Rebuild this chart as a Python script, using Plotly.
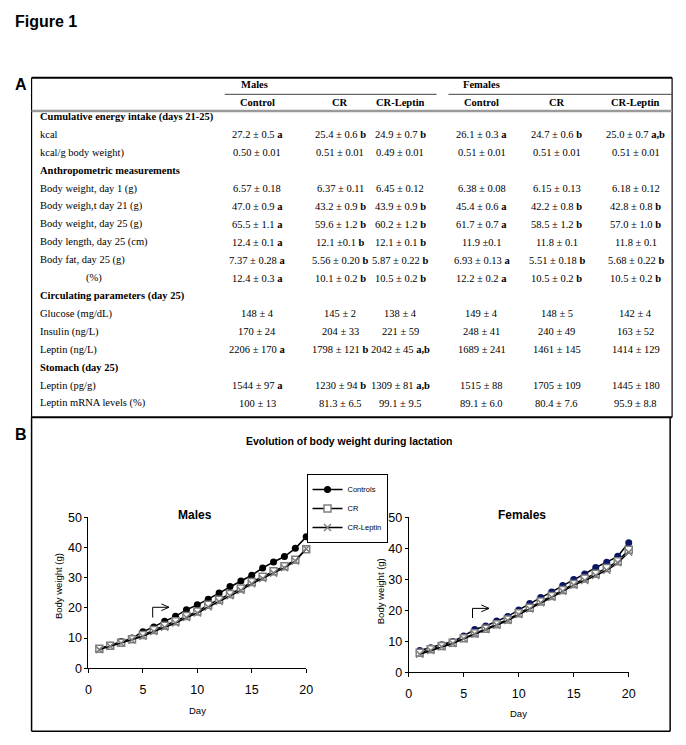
import re
import plotly.graph_objects as go

W, H = 686, 745

# ---------------- Table data (panel A) ----------------
row_labels = [
    "Cumulative energy intake (days 21-25)", "kcal", "kcal/g body weight)",
    "Anthropometric measurements", "Body weight, day 1 (g)", "Body weigh,t day 21 (g)",
    "Body weight, day 25 (g)", "Body length, day 25 (cm)", "Body fat, day 25 (g)", "(%)",
    "Circulating parameters (day 25)", "Glucose (mg/dL)", "Insulin (ng/L)", "Leptin (ng/L)",
    "Stomach (day 25)", "Leptin (pg/g)", "Leptin mRNA levels (%)",
]
section_rows = [0, 3, 10, 14]

groups = ["Males", "Females"]
col_headers = ["Control", "CR", "CR-Leptin", "Control", "CR", "CR-Leptin"]

males_control = ["27.2 ± 0.5 a", "0.50 ± 0.01", "6.57 ± 0.18", "47.0 ± 0.9 a", "65.5 ± 1.1 a",
                 "12.4 ± 0.1 a", "7.37 ± 0.28 a", "12.4 ± 0.3 a", "148 ± 4", "170 ± 24",
                 "2206 ± 170 a", "1544 ± 97 a", "100 ± 13"]
males_cr = ["25.4 ± 0.6 b", "0.51 ± 0.01", "6.37 ± 0.11", "43.2 ± 0.9 b", "59.6 ± 1.2 b",
            "12.1 ±0.1 b", "5.56 ± 0.20 b", "10.1 ± 0.2 b", "145 ± 2", "204 ± 33",
            "1798 ± 121 b", "1230 ± 94 b", "81.3 ± 6.5"]
males_crlep = ["24.9 ± 0.7 b", "0.49 ± 0.01", "6.45 ± 0.12", "43.9 ± 0.9 b", "60.2 ± 1.2 b",
               "12.1 ± 0.1 b", "5.87 ± 0.22 b", "10.5 ± 0.2 b", "138 ± 4", "221 ± 59",
               "2042 ± 45 a,b", "1309 ± 81 a,b", "99.1 ± 9.5"]
females_control = ["26.1 ± 0.3 a", "0.51 ± 0.01", "6.38 ± 0.08", "45.4 ± 0.6 a", "61.7 ± 0.7 a",
                   "11.9 ±0.1", "6.93 ± 0.13 a", "12.2 ± 0.2 a", "149 ± 4", "248 ± 41",
                   "1689 ± 241", "1515 ± 88", "89.1 ± 6.0"]
females_cr = ["24.7 ± 0.6 b", "0.51 ± 0.01", "6.15 ± 0.13", "42.2 ± 0.8 b", "58.5 ± 1.2 b",
              "11.8 ± 0.1", "5.51 ± 0.18 b", "10.5 ± 0.2 b", "148 ± 5", "240 ± 49",
              "1461 ± 145", "1705 ± 109", "80.4 ± 7.6"]
females_crlep = ["25.0 ± 0.7 a,b", "0.51 ± 0.01", "6.18 ± 0.12", "42.8 ± 0.8 b", "57.0 ± 1.0 b",
                 "11.8 ± 0.1", "5.68 ± 0.22 b", "10.5 ± 0.2 b", "142 ± 4", "163 ± 52",
                 "1414 ± 129", "1445 ± 180", "95.9 ± 8.8"]

# ---------------- Chart data (panel B) ----------------
days = list(range(1, 21))
male_controls = [6.5, 7.6, 8.9, 10.0, 12.1, 13.7, 15.6, 17.2, 19.4, 21.0,
                 22.9, 24.9, 27.1, 28.9, 30.8, 33.2, 35.2, 37.0, 39.7, 43.5]
male_cr = [6.5, 7.5, 8.5, 9.6, 11.0, 12.7, 14.1, 15.6, 17.3, 18.8,
           21.0, 22.7, 24.6, 26.4, 28.6, 30.3, 32.1, 33.8, 35.9, 39.4]
male_crlep = [6.2, 7.3, 8.3, 9.4, 10.6, 12.2, 13.6, 15.0, 16.8, 18.3,
              20.3, 22.1, 24.0, 25.8, 28.0, 29.7, 31.5, 33.3, 35.5, 39.6]
female_controls = [7.0, 7.9, 8.9, 9.9, 11.7, 13.8, 14.9, 16.5, 18.0, 20.1,
                   22.2, 24.1, 25.9, 28.0, 29.9, 31.7, 33.8, 35.5, 37.4, 41.8]
female_cr = [6.3, 7.4, 8.5, 9.5, 11.0, 12.6, 14.0, 15.5, 17.0, 19.0,
             20.8, 22.8, 24.6, 26.5, 28.5, 30.2, 31.8, 33.6, 35.8, 39.5]
female_crlep = [5.8, 7.0, 8.2, 9.3, 10.8, 12.3, 13.8, 15.2, 16.7, 18.6,
                20.4, 22.4, 24.2, 26.1, 28.1, 29.6, 31.2, 32.9, 35.3, 38.7]

x_ticks = [0, 5, 10, 15, 20]
y_ticks = [0, 10, 20, 30, 40, 50]


def px(x):
    return x / W


def py(y):
    return 1 - y / H


def fmt_cell(s):
    m = re.match(r"^(.*?)\s+([ab](?:,[ab])?)$", s)
    if m:
        return f"{m.group(1)} <b>{m.group(2)}</b>"
    return s


fig = go.Figure()

SERIF = "Liberation Serif, Times New Roman, serif"
SANS = "Liberation Sans, Arial, sans-serif"

# ---- Traces ----
line_black = dict(color="black", width=1.5)
series = [
    ("Controls", male_controls, female_controls, dict(symbol="circle", size=7, color="black"),
     dict(symbol="circle", size=7, color="#0b1764", line=dict(color="#0b1764", width=0))),
    ("CR", male_cr, female_cr,
     dict(symbol="square", size=7, color="white", line=dict(color="#7f7f7f", width=1.5)),
     dict(symbol="square", size=7, color="white", line=dict(color="#7f7f7f", width=1.5))),
    ("CR-Leptin", male_crlep, female_crlep,
     dict(symbol="x-thin-open", size=7, color="#7f7f7f", line=dict(color="#7f7f7f", width=1.5)),
     dict(symbol="x-thin-open", size=7, color="#7f7f7f", line=dict(color="#7f7f7f", width=1.5))),
]
for name, mv, fv, mm, fm in series:
    fig.add_trace(go.Scatter(x=days, y=mv, name=name, mode="lines+markers", line=line_black,
                             marker=mm, xaxis="x", yaxis="y", cliponaxis=False, showlegend=True))
    fig.add_trace(go.Scatter(x=days, y=fv, name=name, mode="lines+markers", line=line_black,
                             marker=fm, xaxis="x2", yaxis="y2", cliponaxis=False, showlegend=False))

axis_common = dict(showgrid=False, zeroline=False, showline=True, linecolor="black", linewidth=1,
                   ticks="outside", tickcolor="black", tickwidth=1,
                   tickfont=dict(family=SANS, size=12.5, color="black"))

fig.update_layout(
    width=W, height=H, autosize=False,
    margin=dict(l=0, r=0, t=0, b=0),
    paper_bgcolor="white", plot_bgcolor="rgba(0,0,0,0)",
    xaxis=dict(domain=[px(86.7), px(307.7)], range=[0, 20], tickvals=x_ticks, ticklen=4,
               ticklabelstandoff=6, anchor="y", **axis_common),
    yaxis=dict(domain=[py(674), py(520)], range=[0, 50], tickvals=y_ticks, anchor="x",
               ticklen=3, **axis_common),
    xaxis2=dict(domain=[px(411.7), px(635)], range=[0, 20], tickvals=x_ticks, ticklen=4,
                ticklabelstandoff=6, anchor="y2", **axis_common),
    yaxis2=dict(domain=[py(678), py(520)], range=[0, 50], tickvals=y_ticks, anchor="x2",
                ticklen=3, **axis_common),
    legend=dict(x=px(308), y=py(476), xanchor="left", yanchor="top",
                bordercolor="black", borderwidth=1, bgcolor="white",
                font=dict(family=SANS, size=7.5, color="black"),
                itemwidth=30, tracegroupgap=0),
    showlegend=True,
)

ann = []
shapes = []


def text(x, y, s, size, family=SERIF, bold=False, anchor="center", color="black", angle=0):
    ann.append(dict(x=px(x), y=py(y), xref="paper", yref="paper", text=(f"<b>{s}</b>" if bold else s),
                    showarrow=False, xanchor=anchor, yanchor="middle", textangle=angle,
                    font=dict(family=family, size=size, color=color)))


def hline(x0, x1, y, w=1, color="black"):
    shapes.append(dict(type="line", xref="paper", yref="paper", x0=px(x0), x1=px(x1),
                       y0=py(y), y1=py(y), line=dict(color=color, width=w)))


def vline(x, y0, y1, w=1, color="black"):
    shapes.append(dict(type="line", xref="paper", yref="paper", x0=px(x), x1=px(x),
                       y0=py(y0), y1=py(y1), line=dict(color=color, width=w)))


# ---- Figure labels ----
text(10, 15, "Figure 1", 16, SANS, True, "left")
text(10, 79, "A", 16, SANS, True, "left")
text(10, 436, "B", 16, SANS, True, "left")

# ---- Table ----
TL, TR, TT, TB = 29, 679, 72, 418
hline(TL, TR, TT, 2)
hline(TL, TR, TB, 2)
vline(TL, TT, TB, 1.2)
vline(TR, TT, TB, 1.2)
hline(225, 440, 89, 1, "#444")
hline(452, TR, 89, 1, "#444")
hline(TL, TR, 106, 2.5, "#9a9a9a")

col_x = [258, 342, 403, 486, 562, 642]
text(255, 79, groups[0], 10.5, bold=True)
text(486, 79, groups[1], 10.5, bold=True)
for cx, h in zip(col_x, col_headers):
    text(cx, 97, h, 10.5, bold=True)

columns = [males_control, males_cr, males_crlep, females_control, females_cr, females_crlep]
vi = 0
for i, lab in enumerate(row_labels):
    y = 112 + 18.25 * i
    if i in section_rows:
        text(36, y, lab, 10.5, bold=True, anchor="left")
        continue
    text(82 if lab == "(%)" else 36, y, lab, 10.5, anchor="left")
    for cx, col in zip(col_x, columns):
        text(cx, y, fmt_cell(col[vi]), 10.5)
    vi += 1

# ---- Panel B frame ----
vline(TL, TB, 738, 1.5)
vline(677, TB, 738, 1.5)
hline(TL, 677, 738, 1.5)

text(352, 442, "Evolution of body weight during lactation", 10.5, SANS, True)
text(195, 518, "Males", 12, SANS, True)
text(527, 518, "Females", 12, SANS, True)
text(197, 717, "Day", 9.5, SANS)
text(523, 720, "Day", 9.5, SANS)
text(57, 590, "Body weight (g)", 9.5, SANS, angle=-90)
text(383, 595, "Body weight (g)", 9.5, SANS, angle=-90)

# ---- Bent arrows marking treatment start ----
arrows = [("x", "y", 5.9, 16.8, 20.2, 7.4), ("x2", "y2", 5.8, 17.5, 20.6, 7.3)]
for xr, yr, ax0, ay0, ay1, ax1 in arrows:
    path = (f"M {ax0} {ay0} L {ax0} {ay1} L {ax1} {ay1} "
            f"M {ax1 - 0.7} {ay1 + 1.1} L {ax1} {ay1} L {ax1 - 0.7} {ay1 - 1.1}")
    shapes.append(dict(type="path", xref=xr, yref=yr, path=path,
                       line=dict(color="black", width=1)))

fig.update_layout(annotations=ann, shapes=shapes)
fig.write_html("out.html", config={"displayModeBar": False},
               post_script="document.body.style.margin='0';document.body.style.padding='0';")
